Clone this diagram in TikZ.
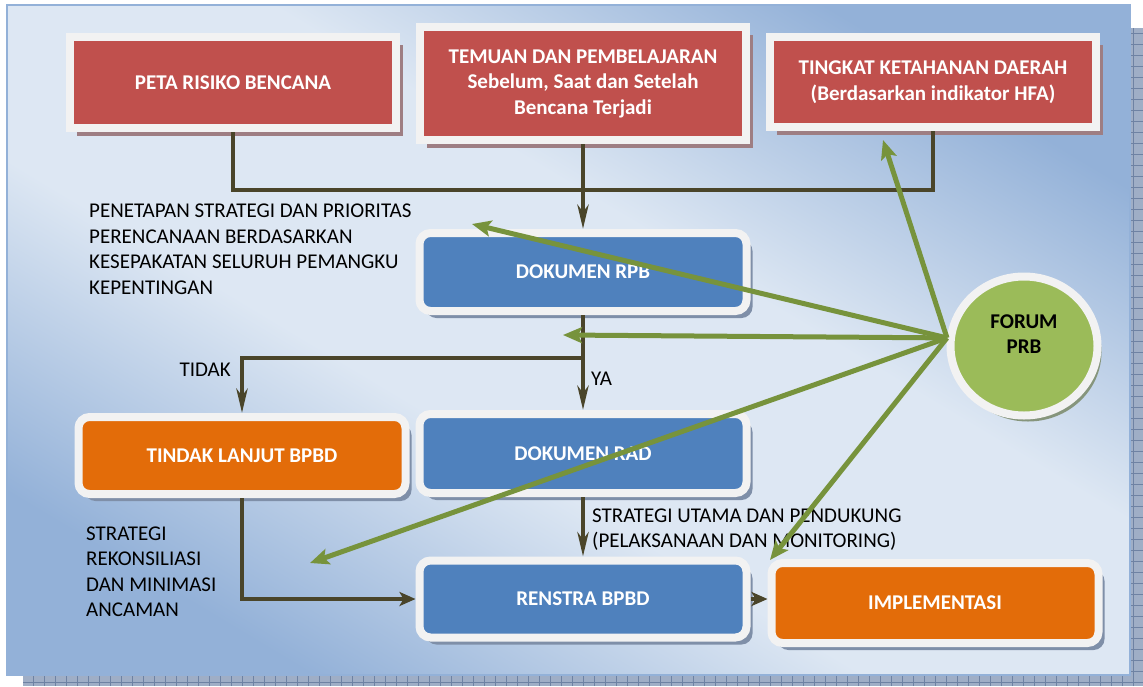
\documentclass[tikz,border=0pt]{standalone}
\usepackage{fontspec}
\setmainfont{Carlito}
\usetikzlibrary{arrows.meta,shadows,shapes.geometric}

\definecolor{boxred}{HTML}{C0504D}
\definecolor{boxblue}{HTML}{4F81BD}
\definecolor{boxorange}{HTML}{E36C09}
\definecolor{forumgreen}{HTML}{9BBB59}
\definecolor{forumline}{HTML}{77933C}
\definecolor{rim}{HTML}{F2F2F2}
\definecolor{linkbrown}{HTML}{4A452A}
\definecolor{panellight}{HTML}{DDE7F3}
\definecolor{paneldark}{HTML}{93B1D8}
\definecolor{redshade}{HTML}{9E7E83}
\definecolor{blueshade}{HTML}{7F8FA8}
\definecolor{greenshade}{HTML}{86957C}
\definecolor{stripfill}{HTML}{9FAEC6}
\definecolor{stripline}{HTML}{6E82A3}

\pgfdeclareverticalshading{panelfade}{100bp}{color(0bp)=(paneldark); color(25bp)=(paneldark); color(42bp)=(panellight); color(58bp)=(panellight); color(75bp)=(paneldark); color(100bp)=(paneldark)}

\begin{document}
\begin{tikzpicture}[x=1pt,y=-1pt,
	boxfont/.style={font=\fontsize{21}{25.5}\selectfont\bfseries},
	notefont/.style={font=\fontsize{21}{25.5}\selectfont,align=left,inner sep=0pt},
	redbox/.style={boxfont,draw=rim,line width=8pt,fill=boxred,text=white,align=center,inner sep=0pt,minimum width=326pt,
		drop shadow={shadow xshift=7pt,shadow yshift=-8pt,fill=redshade,opacity=1}},
	roundbox/.style={boxfont,draw=rim,line width=8pt,rounded corners=11pt,text=white,align=center,inner sep=0pt,minimum width=327pt,
		drop shadow={shadow xshift=6pt,shadow yshift=-7pt,fill=blueshade,opacity=1}},
	link/.style={draw=linkbrown,line width=4.5pt},
	downtip/.style={-{Stealth[length=24pt,width=11pt,inset=7pt]}},
	sidetip/.style={-{Stealth[length=16pt,width=14pt,inset=4pt]}},
	forumarrow/.style={draw=forumline,line width=5pt,-{Stealth[length=19pt,width=16pt,inset=4pt]}}]
			% background panel
			\useasboundingbox (0,0) rectangle (1143,686);
			\fill[stripfill] (1130,28) rectangle (1143,686);
			\fill[stripfill] (23,675) rectangle (1143,686);
			\draw[stripline,line width=0.6pt,step=11pt] (1130,28) grid (1143,686);
			\draw[stripline,line width=0.6pt,step=11pt] (23,675) grid (1143,686);
			\shade[shading=panelfade,shading angle=-31] (7,5) rectangle (1130,675);
			\draw[paneldark,line width=1.5pt] (7,5) rectangle (1130,675);
			
			% junction points
			\coordinate (TopJoin) at (583,190);
			\coordinate (Split) at (583,358);
			
			\node[redbox,minimum height=91pt] (Peta) at (233,82.5) {PETA RISIKO BENCANA};
			\node[redbox,minimum height=113pt] (Temuan) at (583,83.5) {TEMUAN DAN PEMBELAJARAN\\Sebelum, Saat dan Setelah\\Bencana Terjadi};
			\node[redbox,minimum height=90pt] (Tingkat) at (933,82) {TINGKAT KETAHANAN DAERAH\\(Berdasarkan indikator HFA)};
			\node[roundbox,fill=boxblue,minimum height=78pt] (DokRPB) at (583,272) {DOKUMEN RPB};
			\node[roundbox,fill=boxblue,minimum height=79pt] (DokRAD) at (583,453.5) {DOKUMEN RAD};
			\node[roundbox,fill=boxorange,minimum height=77pt] (Tindak) at (242,455.5) {TINDAK LANJUT BPBD};
			\node[roundbox,fill=boxblue,minimum height=77pt] (Renstra) at (583,599) {RENSTRA BPBD};
			\node[roundbox,fill=boxorange,minimum height=80pt] (Impl) at (935,603) {IMPLEMENTASI};
			\node[ellipse,draw=rim,line width=8pt,fill=forumgreen,minimum width=147pt,minimum height=139pt,
				drop shadow={shadow xshift=4pt,shadow yshift=-6pt,fill=greenshade,opacity=1}] (Forum) at (1024,346) {};
			\node[boxfont,align=center,inner sep=0pt,yshift=12pt] (ForumText) at (Forum.center) {FORUM\\PRB};
			
			\node[notefont,anchor=west] (Penetapan) at (89,249.5) {PENETAPAN STRATEGI DAN PRIORITAS\\PERENCANAAN BERDASARKAN\\KESEPAKATAN SELURUH PEMANGKU\\KEPENTINGAN};
			\node[notefont,anchor=east] (Tidak) at (231,370) {TIDAK};
			\node[notefont,anchor=west] (Ya) at (591,379) {YA};
			\node[notefont,anchor=west] (Rekonsiliasi) at (86,571.5) {STRATEGI\\REKONSILIASI\\DAN MINIMASI\\ANCAMAN};
			\node[notefont,anchor=west] (Utama) at (592,529.5) {STRATEGI UTAMA DAN PENDUKUNG\\(PELAKSANAAN DAN MONITORING)};
			
			\draw[link] (Peta.south) |- (TopJoin) -| (Tingkat.south);
			\draw[link,downtip] (Temuan.south) -- (DokRPB.north);
			\draw[link,downtip] (DokRPB.south) -- (DokRAD.north);
			\draw[link,downtip] (Split) -| (Tindak.north);
			\draw[link,downtip] (DokRAD.south) -- (Renstra.north);
			\draw[link,sidetip] (Tindak.south) |- (Renstra.west);
			\draw[link,sidetip] (Renstra.east) -- (Renstra.east -| Impl.west);
			
			% forum arrows
			\coordinate (Hub) at (Forum.174);
			\coordinate (PrioritasEnd) at (472,224);
			\coordinate (SplitEnd) at (563,335);
			\coordinate (RekonEnd) at (310,563);
			\coordinate (ImplEnd) at (770,560);
			\coordinate (TingkatEnd) at (883,140);
			\draw[forumarrow] (Hub) to (PrioritasEnd);
			\draw[forumarrow] (Hub) to (SplitEnd);
			\draw[forumarrow] (Hub) to (RekonEnd);
			\draw[forumarrow] (Hub) to (ImplEnd);
			\draw[forumarrow] (Hub) to (TingkatEnd);
			
\end{tikzpicture}
\end{document}
